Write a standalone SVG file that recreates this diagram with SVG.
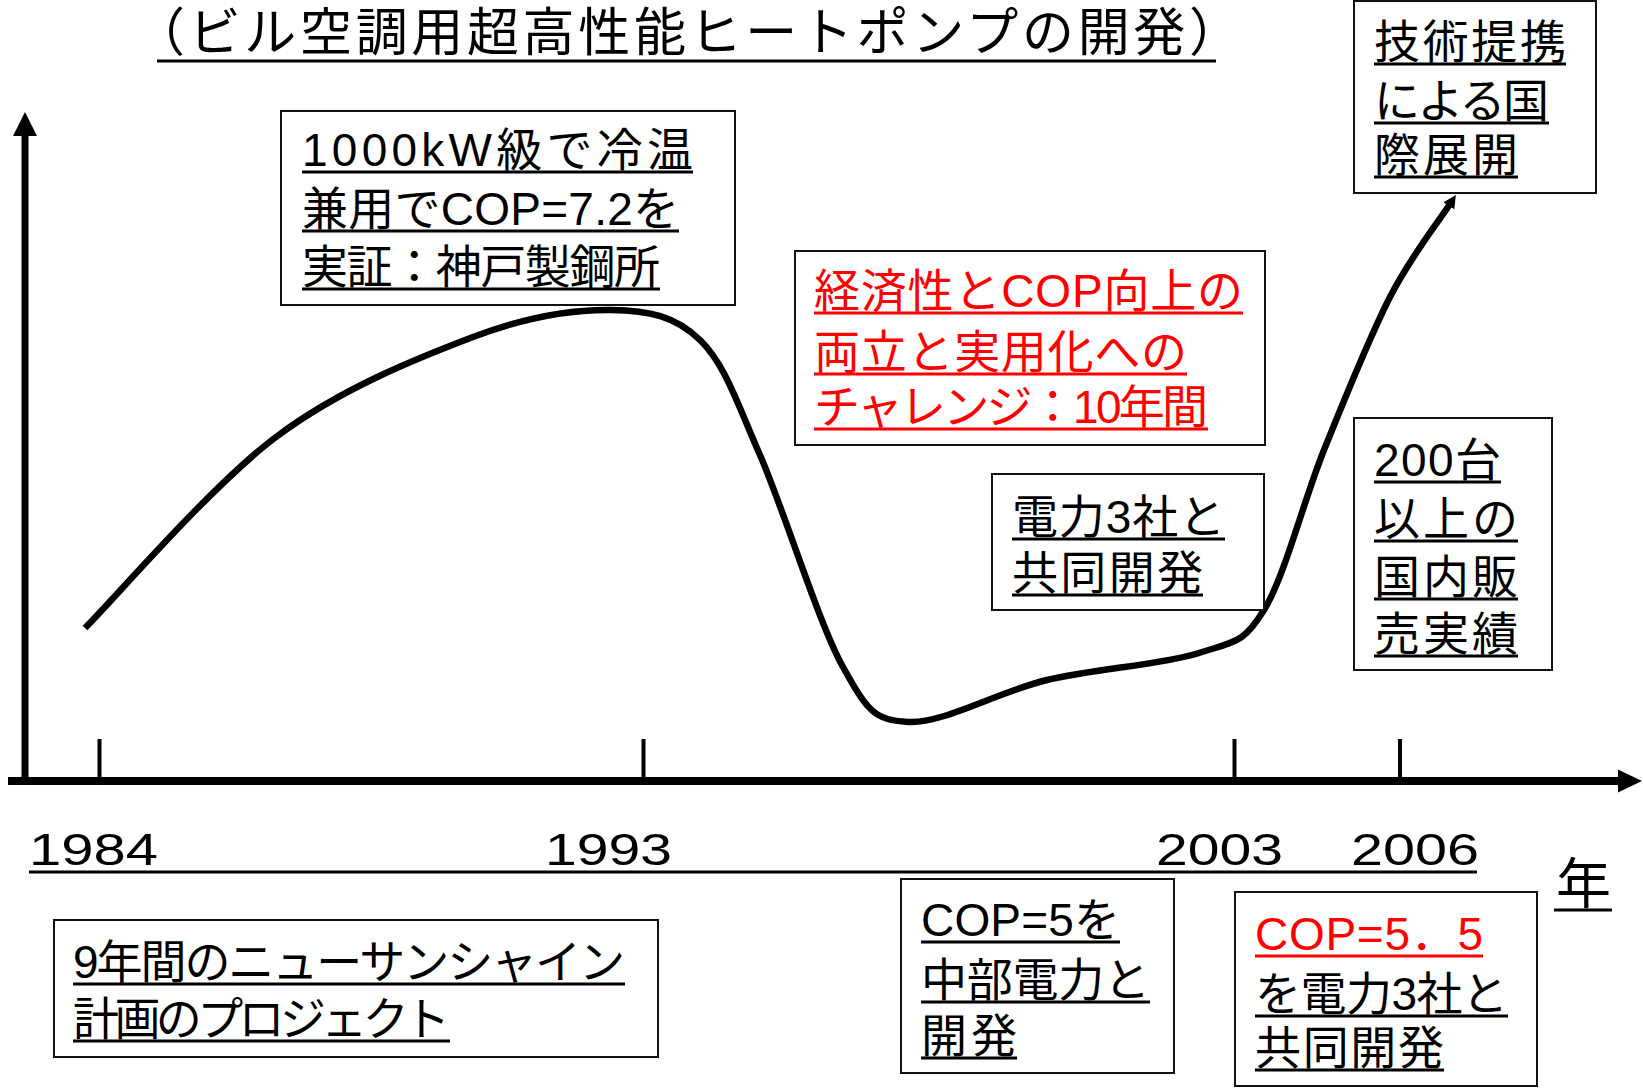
<svg xmlns="http://www.w3.org/2000/svg" width="1643" height="1088" viewBox="0 0 1643 1088">
<style>
  .bg{fill:#fff}
  .box{fill:#fff;stroke:#111;stroke-width:2}
  .t{font-family:"Liberation Sans","Noto Sans CJK JP",sans-serif;font-size:46px;fill:#000}
  .red{fill:#ff0000}
  .ul{stroke:#000;stroke-width:3}
  .ulr{stroke:#ff0000;stroke-width:3}
  .yr{font-family:"Liberation Sans","Noto Sans CJK JP",sans-serif;font-size:45px;fill:#000}
  .axis{stroke:#000;fill:none}
  .curve{stroke:#000;stroke-width:6.5;fill:none;stroke-linecap:butt}
</style>
<defs>
  <marker id="ah" viewBox="0 0 12 12" markerUnits="userSpaceOnUse" markerWidth="13" markerHeight="13" refX="2" refY="6" orient="auto">
    <path d="M0,0 L12,6 L0,12 z" fill="#000"/>
  </marker>
</defs>
<rect class="bg" x="0" y="0" width="1643" height="1088"/>

<g id="title">
  <text class="t" x="133" y="51" style="font-size:52px" textLength="1108" lengthAdjust="spacing">（ビル空調用超高性能ヒートポンプの開発）</text>
  <line class="ul" x1="157" y1="61" x2="1216" y2="61"/>
</g>

<g id="axes">
  <line class="axis" x1="25" y1="785" x2="25" y2="133" stroke-width="7"/>
  <polygon points="25,112 13,136 37,136" fill="#000"/>
  <line class="axis" x1="8" y1="781" x2="1620" y2="781" stroke-width="8"/>
  <polygon points="1642,781 1618,769.5 1618,792.5" fill="#000"/>
  <line class="axis" x1="99.5" y1="739" x2="99.5" y2="781" stroke-width="4"/>
  <line class="axis" x1="643.5" y1="739" x2="643.5" y2="781" stroke-width="4"/>
  <line class="axis" x1="1234.5" y1="739" x2="1234.5" y2="781" stroke-width="4"/>
  <line class="axis" x1="1400" y1="739" x2="1400" y2="781" stroke-width="4"/>
</g>

<g id="years">
  <text class="yr" x="29" y="865" textLength="129" lengthAdjust="spacingAndGlyphs">1984</text>
  <text class="yr" x="545" y="865" textLength="127" lengthAdjust="spacingAndGlyphs">1993</text>
  <text class="yr" x="1156" y="865" textLength="127" lengthAdjust="spacingAndGlyphs">2003</text>
  <text class="yr" x="1351" y="865" textLength="128" lengthAdjust="spacingAndGlyphs">2006</text>
  <line class="ul" x1="29" y1="872" x2="1477" y2="872"/>
  <text class="t" x="1556" y="903" style="font-size:55px">年</text>
  <line class="ul" x1="1554" y1="910" x2="1612" y2="910"/>
</g>

<g id="connectors">
  <path class="curve" marker-end="url(#ah)" d="M85,628 C116.8,596.2 211.3,485.5 276,437 C340.7,388.5 417.2,358.2 473,337 C528.8,315.8 573.2,309.5 611,310 C648.8,310.5 675.2,315.8 700,340 C724.8,364.2 736.2,400.5 760,455 C783.8,509.5 818.3,622.5 843,667 C867.7,711.5 874,719.8 908,722 C942,724.2 998.5,691.5 1047,680 C1095.5,668.5 1162.8,664.7 1199,653 C1235.2,641.3 1243.2,643.8 1264,610 C1284.8,576.2 1303,502.2 1324,450 C1345,397.8 1369,338 1390,297 C1411,256 1440,219.5 1450,204"/>
</g>

<g id="node-kobe">
  <rect class="box" x="281" y="111" width="454" height="194"/>
  <text class="t" x="302" y="166" textLength="391" lengthAdjust="spacing">1000kW級で冷温</text>
  <line class="ul" x1="302" y1="172" x2="693" y2="172"/>
  <text class="t" x="302" y="225" textLength="377" lengthAdjust="spacing">兼用でCOP=7.2を</text>
  <line class="ul" x1="302" y1="231" x2="679" y2="231"/>
  <text class="t" x="302" y="283" textLength="358" lengthAdjust="spacing">実証：神戸製鋼所</text>
  <line class="ul" x1="302" y1="289" x2="660" y2="289"/>
</g>

<g id="node-challenge">
  <rect class="box" x="795" y="251" width="470" height="194"/>
  <text class="t red" x="814" y="307" textLength="429" lengthAdjust="spacing">経済性とCOP向上の</text>
  <line class="ulr" x1="814" y1="313" x2="1243" y2="313"/>
  <text class="t red" x="814" y="368" textLength="373" lengthAdjust="spacing">両立と実用化への</text>
  <line class="ulr" x1="814" y1="374" x2="1187" y2="374"/>
  <text class="t red" x="814" y="423" textLength="394" lengthAdjust="spacing">チャレンジ：10年間</text>
  <line class="ulr" x1="814" y1="429" x2="1208" y2="429"/>
</g>

<g id="node-joint">
  <rect class="box" x="992" y="474" width="272" height="136"/>
  <text class="t" x="1012" y="533" textLength="213" lengthAdjust="spacing">電力3社と</text>
  <line class="ul" x1="1012" y1="539" x2="1225" y2="539"/>
  <text class="t" x="1012" y="589" textLength="191" lengthAdjust="spacing">共同開発</text>
  <line class="ul" x1="1012" y1="595" x2="1203" y2="595"/>
</g>

<g id="node-intl">
  <rect class="box" x="1354" y="1" width="242" height="192"/>
  <text class="t" x="1374" y="58" textLength="192" lengthAdjust="spacing">技術提携</text>
  <line class="ul" x1="1374" y1="64" x2="1566" y2="64"/>
  <text class="t" x="1374" y="117" textLength="175" lengthAdjust="spacing">による国</text>
  <line class="ul" x1="1374" y1="123" x2="1549" y2="123"/>
  <text class="t" x="1374" y="171" textLength="144" lengthAdjust="spacing">際展開</text>
  <line class="ul" x1="1374" y1="177" x2="1518" y2="177"/>
</g>

<g id="node-sales">
  <rect class="box" x="1354" y="418" width="198" height="252"/>
  <text class="t" x="1374" y="476" textLength="127" lengthAdjust="spacing">200台</text>
  <line class="ul" x1="1374" y1="482" x2="1501" y2="482"/>
  <text class="t" x="1374" y="535" textLength="144" lengthAdjust="spacing">以上の</text>
  <line class="ul" x1="1374" y1="541" x2="1518" y2="541"/>
  <text class="t" x="1374" y="593" textLength="144" lengthAdjust="spacing">国内販</text>
  <line class="ul" x1="1374" y1="599" x2="1518" y2="599"/>
  <text class="t" x="1374" y="650" textLength="144" lengthAdjust="spacing">売実績</text>
  <line class="ul" x1="1374" y1="656" x2="1518" y2="656"/>
</g>

<g id="node-sunshine">
  <rect class="box" x="54" y="920" width="604" height="137"/>
  <text class="t" x="73" y="978" textLength="552" lengthAdjust="spacing">9年間のニューサンシャイン</text>
  <line class="ul" x1="73" y1="984" x2="625" y2="984"/>
  <text class="t" x="73" y="1035" textLength="377" lengthAdjust="spacing">計画のプロジェクト</text>
  <line class="ul" x1="73" y1="1041" x2="450" y2="1041"/>
</g>

<g id="node-chubu">
  <rect class="box" x="901" y="879" width="273" height="194"/>
  <text class="t" x="921" y="936" textLength="199" lengthAdjust="spacing">COP=5を</text>
  <line class="ul" x1="921" y1="942" x2="1120" y2="942"/>
  <text class="t" x="921" y="996" textLength="229" lengthAdjust="spacing">中部電力と</text>
  <line class="ul" x1="921" y1="1002" x2="1150" y2="1002"/>
  <text class="t" x="921" y="1052" textLength="96" lengthAdjust="spacing">開発</text>
  <line class="ul" x1="921" y1="1058" x2="1017" y2="1058"/>
</g>

<g id="node-cop55">
  <rect class="box" x="1235" y="892" width="302" height="194"/>
  <text class="t red" x="1255" y="950" textLength="228" lengthAdjust="spacing">COP=5．5</text>
  <line class="ulr" x1="1255" y1="956" x2="1483" y2="956"/>
  <text class="t" x="1255" y="1010" textLength="253" lengthAdjust="spacing">を電力3社と</text>
  <line class="ul" x1="1255" y1="1016" x2="1508" y2="1016"/>
  <text class="t" x="1255" y="1064" textLength="189" lengthAdjust="spacing">共同開発</text>
  <line class="ul" x1="1255" y1="1070" x2="1444" y2="1070"/>
</g>
</svg>
